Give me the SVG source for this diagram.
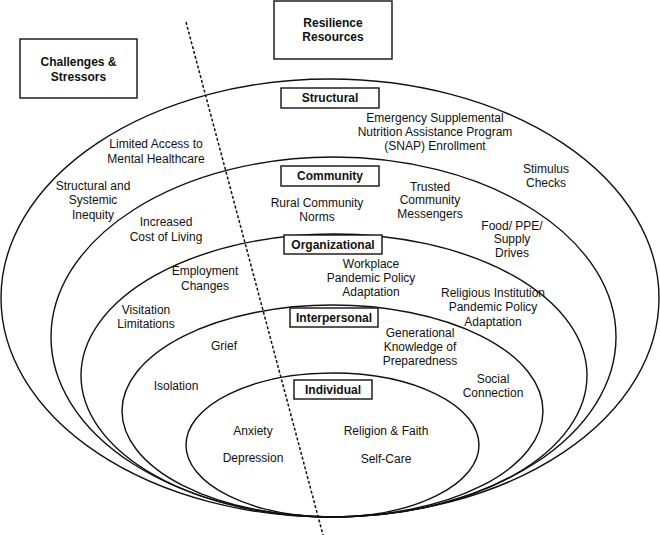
<svg xmlns="http://www.w3.org/2000/svg" width="660" height="535" viewBox="0 0 660 535">
<style>
.ring{fill:none;stroke:#111;stroke-width:1.4}
.box{fill:#fff;stroke:#111;stroke-width:1.4}
.t{font-family:"Liberation Sans",Arial,sans-serif;font-size:12px;fill:#111;text-anchor:middle}
.b{font-weight:bold}
.dash{stroke:#111;stroke-width:1.5;stroke-dasharray:3 2;fill:none}
</style>
<rect width="660" height="535" fill="#fff"/>
<g id="rings">
<ellipse id="ring-structural" class="ring" cx="330" cy="298" rx="329" ry="219"/>
<ellipse id="ring-community" class="ring" cx="333.5" cy="337" rx="282.5" ry="180"/>
<ellipse id="ring-organizational" class="ring" cx="334" cy="375.5" rx="253" ry="141.5"/>
<ellipse id="ring-interpersonal" class="ring" cx="332.5" cy="411" rx="210.5" ry="106"/>
<ellipse id="ring-individual" class="ring" cx="332.5" cy="445" rx="146.5" ry="72"/>
</g>
<g id="connectors">
<line class="dash" x1="186" y1="22" x2="323" y2="535"/>
</g>
<g id="challenges">
<rect class="box" x="20" y="39" width="117" height="59"/>
<text class="t b" x="78.5" y="66">Challenges &amp;</text>
<text class="t b" x="78.5" y="81">Stressors</text>
</g>
<g id="resilience">
<rect class="box" x="274" y="1" width="118" height="58"/>
<text class="t b" x="333" y="27">Resilience</text>
<text class="t b" x="333" y="41">Resources</text>
</g>
<g id="structural">
<rect class="box" x="281" y="88" width="98" height="20"/>
<text class="t b" x="330" y="102">Structural</text>
</g>
<g id="community">
<rect class="box" x="281" y="166" width="98" height="20"/>
<text class="t b" x="330" y="180">Community</text>
</g>
<g id="organizational">
<rect class="box" x="284" y="235" width="98" height="19"/>
<text class="t b" x="333" y="248.5">Organizational</text>
</g>
<g id="interpersonal">
<rect class="box" x="290" y="308" width="88" height="19"/>
<text class="t b" x="334" y="321.5">Interpersonal</text>
</g>
<g id="individual">
<rect class="box" x="294" y="380" width="78" height="19"/>
<text class="t b" x="333" y="393.5">Individual</text>
</g>
<g id="labels">
<text class="t" x="435" y="122">Emergency Supplemental</text>
<text class="t" x="435" y="136">Nutrition Assistance Program</text>
<text class="t" x="435" y="150">(SNAP) Enrollment</text>
<text class="t" x="546" y="173">Stimulus</text>
<text class="t" x="546" y="187">Checks</text>
<text class="t" x="430" y="191">Trusted</text>
<text class="t" x="430" y="204">Community</text>
<text class="t" x="430" y="218">Messengers</text>
<text class="t" x="512" y="230">Food/ PPE/</text>
<text class="t" x="512" y="243">Supply</text>
<text class="t" x="512" y="257">Drives</text>
<text class="t" x="317" y="207">Rural Community</text>
<text class="t" x="317" y="221">Norms</text>
<text class="t" x="371" y="268">Workplace</text>
<text class="t" x="371" y="282">Pandemic Policy</text>
<text class="t" x="371" y="296">Adaptation</text>
<text class="t" x="493" y="297">Religious Institution</text>
<text class="t" x="493" y="311">Pandemic Policy</text>
<text class="t" x="493" y="326">Adaptation</text>
<text class="t" x="420" y="337">Generational</text>
<text class="t" x="420" y="351">Knowledge of</text>
<text class="t" x="420" y="365">Preparedness</text>
<text class="t" x="493" y="383">Social</text>
<text class="t" x="493" y="397">Connection</text>
<text class="t" x="386" y="435">Religion &amp; Faith</text>
<text class="t" x="386" y="463">Self-Care</text>
<text class="t" x="156" y="148">Limited Access to</text>
<text class="t" x="156" y="163">Mental Healthcare</text>
<text class="t" x="93" y="190">Structural and</text>
<text class="t" x="93" y="204">Systemic</text>
<text class="t" x="93" y="219">Inequity</text>
<text class="t" x="166" y="226">Increased</text>
<text class="t" x="166" y="241">Cost of Living</text>
<text class="t" x="205" y="275">Employment</text>
<text class="t" x="205" y="290">Changes</text>
<text class="t" x="146" y="314">Visitation</text>
<text class="t" x="146" y="328">Limitations</text>
<text class="t" x="224" y="350">Grief</text>
<text class="t" x="176" y="390">Isolation</text>
<text class="t" x="253" y="435">Anxiety</text>
<text class="t" x="253" y="462">Depression</text>
</g>
</svg>
